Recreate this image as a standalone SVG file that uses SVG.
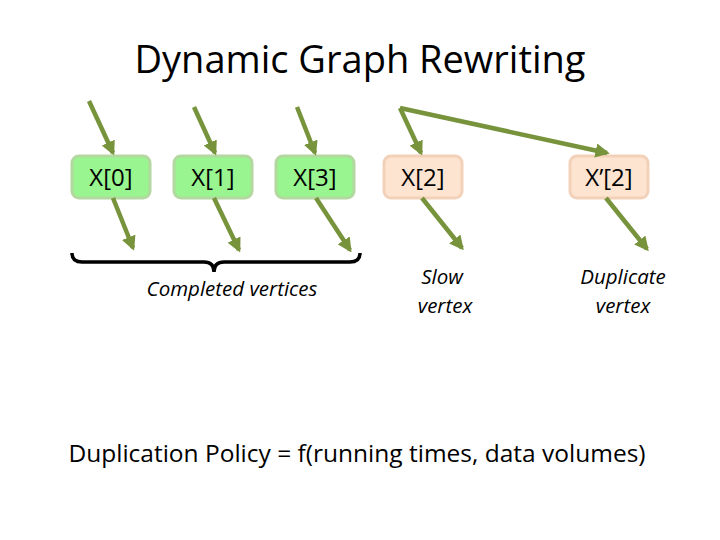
<svg xmlns="http://www.w3.org/2000/svg" width="720" height="540" viewBox="0 0 720 540">
<style>
text{font-family:"Open Sans","Liberation Sans",sans-serif;fill:#000}
.g rect{fill:#98f58f;stroke:#b3d8a0;stroke-width:3}
.o rect{fill:#fde4d0;stroke:#f3d1b9;stroke-width:3}
.n{font-size:24px;text-anchor:middle}
.a{stroke:#77933c;stroke-width:4.5;fill:none;marker-end:url(#ah)}
.l{font-size:20.5px;font-style:italic;text-anchor:middle}
</style>
<defs><marker id="ah" viewBox="0 0 10 10" refX="8" refY="5" markerWidth="3.2" markerHeight="3.2" orient="auto"><path d="M0,0L10,5L0,10z" fill="#77933c"/></marker></defs>
<rect width="720" height="540" fill="#fff"/>
<text x="360" y="73" font-size="38" text-anchor="middle">Dynamic Graph Rewriting</text>
<g id="n0" class="g"><rect x="72" y="156" width="78" height="42" rx="7"/><text class="n" x="111" y="186">X[0]</text></g>
<g id="n1" class="g"><rect x="174" y="156" width="78" height="42" rx="7"/><text class="n" x="213" y="186">X[1]</text></g>
<g id="n3" class="g"><rect x="276" y="156" width="78" height="42" rx="7"/><text class="n" x="315" y="186">X[3]</text></g>
<g id="n2" class="o"><rect x="384" y="156" width="78" height="42" rx="7"/><text class="n" x="423" y="186">X[2]</text></g>
<g id="n2d" class="o"><rect x="570" y="156" width="78" height="42" rx="7"/><text class="n" x="609" y="186">X’[2]</text></g>
<g id="connectors">
<path class="a" d="M89,101L113,153"/><path class="a" d="M113,198L133,248"/>
<path class="a" d="M194,107L215,153"/><path class="a" d="M214,198L239,250"/>
<path class="a" d="M297,107L315,153"/><path class="a" d="M316,198L350,250"/>
<path class="a" d="M400,108L421,153"/><path class="a" d="M422,198L462,248"/>
<path class="a" d="M400,108L607,153"/><path class="a" d="M606,198L647,249"/>
</g>
<path d="M72,253Q72,262 82,262L204,262Q214,262 214,272Q214,262 224,262L350,262Q360,262 360,253" fill="none" stroke="#000" stroke-width="3.5"/>
<text class="l" x="232" y="296">Completed vertices</text>
<text class="l" x="442" y="284">Slow</text><text class="l" x="445" y="313">vertex</text>
<text class="l" x="623" y="284">Duplicate</text><text class="l" x="623" y="313">vertex</text>
<text x="357" y="462" font-size="24.5" text-anchor="middle">Duplication Policy = f(running times, data volumes)</text>
</svg>
